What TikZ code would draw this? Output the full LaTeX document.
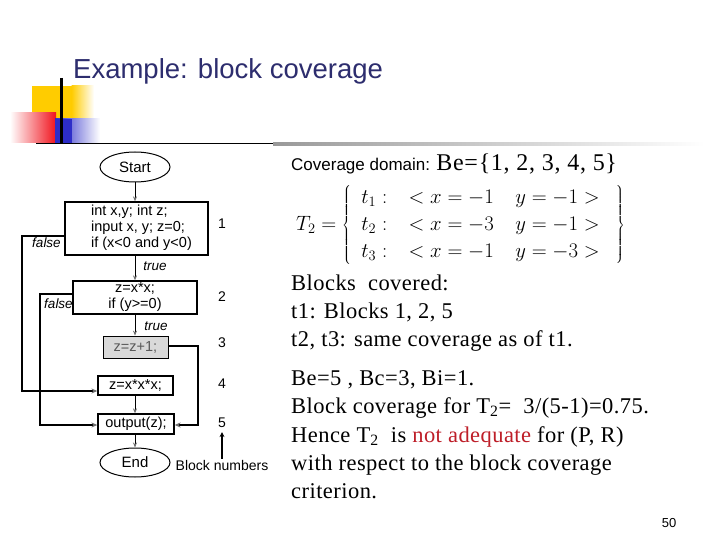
\documentclass[tikz,border=0pt]{standalone}
\usepackage{fontspec}
\setmainfont{Liberation Serif}
\setsansfont{Liberation Sans}
\newfontfamily\fcfont{Liberation Sans}
\usetikzlibrary{arrows.meta,shapes.geometric}
\definecolor{titleblue}{RGB}{45,45,110}
\definecolor{nared}{RGB}{190,30,40}
\definecolor{decoyellow}{RGB}{255,204,0}
\definecolor{decored}{RGB}{240,20,30}
\definecolor{decoblue}{RGB}{45,45,200}
\definecolor{tipgray}{RGB}{110,110,110}
\begin{document}
\begin{tikzpicture}[x=1pt,y=-1pt,
  fcbox/.style={draw, line width=1.3pt, inner sep=0pt, align=center,
     font=\fcfont\fontsize{14.5}{16}\selectfont},
  oval/.style={ellipse, draw, line width=1pt, inner sep=0pt,
     font=\fcfont\fontsize{15}{17}\selectfont},
  flowarrow/.style={line width=0.8pt, -{Stealth[length=5pt,width=4pt,color=tipgray]}},
  looparrow/.style={line width=2pt, -{Stealth[length=6pt,width=5pt,color=tipgray]}},
  fclabel/.style={font=\fcfont\itshape\fontsize{13.5}{15}\selectfont, inner sep=0pt},
  blocknum/.style={font=\fcfont\fontsize{14}{16}\selectfont, inner sep=1pt},
  bodytext/.style={anchor=base west, inner sep=0pt,
     font=\fontsize{22.5}{28}\selectfont\addfontfeatures{LetterSpace=2}}
]
\useasboundingbox (0,0) rectangle (720,540);
\fill[white] (0,0) rectangle (720,540);

% decoration
\fill[decoyellow] (32,86) rectangle (72,122);
\shade[left color=decoyellow, right color=white] (71.5,86) rectangle (94,122);
\shade[left color=white, right color=decored] (10,113) rectangle (56,143);
\shade[left color=decoblue, right color=white] (55,119) rectangle (100,143);
\fill[decoblue] (55,119) rectangle (72,143);
\draw[line width=3pt] (61,78) -- (61,143);
\draw[line width=1pt] (36,144) -- (274,144);
\shade[left color=gray!80, right color=white] (273,143) rectangle (705,146);

% title
\node[anchor=west, inner sep=0pt, text=titleblue, font=\sffamily\fontsize{27.5}{32}\selectfont] (title) at (73,71) {Example: block coverage};

% flowchart
\node[oval, minimum width=70, minimum height=30] (start) at (135,167) {Start};
\node[fcbox, minimum width=143, minimum height=53] (b1) at (136.5,228.5) {\hspace*{10pt}\begin{tabular}{@{}l@{}}int x,y; int z;\\input x, y; z=0;\\if (x<0 and y<0)\end{tabular}};
\node[fcbox, minimum width=124, minimum height=33] (b2) at (135,297.5) {z=x*x;\\if (y>=0)};
\node[fcbox, line width=0.8pt, fill=gray!30, text=gray!70!black, minimum width=65, minimum height=22] (b3) at (135.5,347) {z=z+1;};
\node[fcbox, minimum width=75, minimum height=19] (b4) at (135.5,385.5) {z=x*x*x;};
\node[fcbox, minimum width=76, minimum height=20] (b5) at (136,424) {output(z);};
\node[oval, minimum width=70, minimum height=29] (end) at (135,462.5) {End};

\draw[flowarrow] (start.south) -- (b1.north -| start.south);
\draw[flowarrow] (b1.south -| start.south) -- (b2.north -| start.south);
\draw[flowarrow] (b2.south -| start.south) -- (b3.north -| start.south);
\draw[flowarrow] (b4.south -| start.south) -- (b5.north -| start.south);
\draw[flowarrow] (b5.south -| start.south) -- (end.north -| start.south);

\coordinate (f1a) at (22,236);
\coordinate (f1b) at (22,391);
\draw[looparrow] (b1.west |- f1a) -- (f1a) -- (f1b) -- (b4.west |- f1b);
\coordinate (f2a) at (40,294);
\coordinate (f2b) at (40,425);
\draw[looparrow] (b2.west |- f2a) -- (f2a) -- (f2b) -- (b5.west |- f2b);
\coordinate (t3a) at (198,346);
\coordinate (t3b) at (198,425);
\draw[looparrow] (b3.east |- t3a) -- (t3a) -- (t3b) -- (b5.east |- t3b);

\node[fclabel] (false1) at (46.5,243) {false};
\node[fclabel] (false2) at (58.5,304) {false};
\node[fclabel] (true1) at (155,266) {true};
\node[fclabel] (true2) at (156,326) {true};

\node[blocknum] (n1) at (222,224) {1};
\node[blocknum] (n2) at (222,297) {2};
\node[blocknum] (n3) at (222,343) {3};
\node[blocknum] (n4) at (222,384) {4};
\node[blocknum] (n5) at (222,423) {5};
\node[blocknum] (bn) at (222,465) {Block numbers};
\draw[line width=2.2pt, -{Stealth[length=5pt,width=5pt]}] (bn.north) -- ([yshift=-3pt]n5.south);

% right text
\node[anchor=base west, inner sep=0pt] (cov) at (291,171) {{\sffamily\fontsize{17}{20}\selectfont Coverage domain: }{\fontsize{24}{28}\selectfont\addfontfeatures{LetterSpace=3}Be=\{1, 2, 3, 4, 5\}}};
\node[anchor=west, inner sep=0pt, font=\fontsize{21.5}{25}\selectfont] (tset) at (296,225)
 {\renewcommand{\arraystretch}{1.08}$T_2=\left\{\ \begin{array}{l@{\quad}l@{\quad}l}
   t_1: & <x=-1 & y=-1> \\
   t_2: & <x=-3 & y=-1> \\
   t_3: & <x=-1 & y=-3>
   \end{array}\ \;\right\}$};

\node[bodytext] (l1) at (291,290) {Blocks~ covered:};
\node[bodytext] (l2) at (291,318) {t1: Blocks 1, 2, 5};
\node[bodytext] (l3) at (291,346) {t2, t3: same coverage as of t1.};
\node[bodytext] (l4) at (291,385) {Be=5 , Bc=3, Bi=1.};
\node[bodytext] (l5) at (291,413) {Block coverage for T\textsubscript{2}=~ 3/(5-1)=0.75.};
\node[bodytext] (l6) at (291,442) {Hence T\textsubscript{2}~ is \textcolor{nared}{not adequate} for (P, R)};
\node[bodytext] (l7) at (291,470) {with respect to the block coverage};
\node[bodytext] (l8) at (291,498) {criterion.};

\node[anchor=base, inner sep=0pt, font=\sffamily\fontsize{13}{15}\selectfont] (page) at (669,527) {50};
\end{tikzpicture}
\end{document}
